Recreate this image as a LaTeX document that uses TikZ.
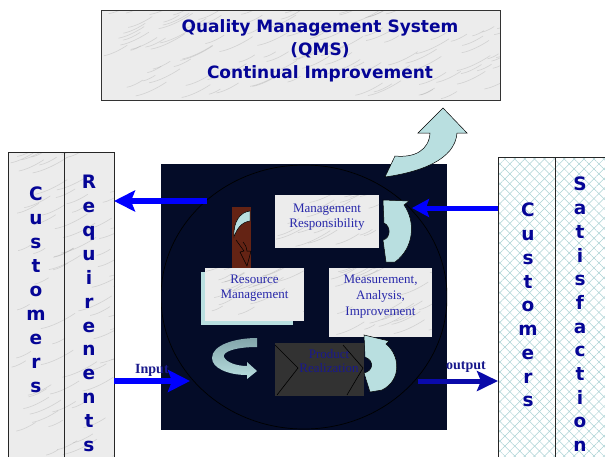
\documentclass[tikz,border=0pt]{standalone}
\usepackage{fontspec}
\setmainfont{Liberation Serif}
\newfontfamily\bigsans{DejaVu Sans}
\usetikzlibrary{arrows.meta,patterns.meta}
\definecolor{txtblue}{RGB}{40,40,170}
\definecolor{letblue}{RGB}{5,5,150}
\definecolor{arrowblue}{RGB}{0,0,255}
\definecolor{navyarrow}{RGB}{10,10,170}
\definecolor{darkbg}{RGB}{4,12,40}
\definecolor{tealfill}{RGB}{185,223,224}
\definecolor{tealdark}{RGB}{130,165,170}
\definecolor{marblebg}{RGB}{236,236,236}
\definecolor{veincol}{RGB}{170,170,170}
\definecolor{hatch}{RGB}{170,210,212}
\definecolor{brownfill}{RGB}{100,35,20}
\definecolor{prodfill}{RGB}{50,50,50}
\definecolor{prodtext}{RGB}{25,25,140}
\newcommand\marbleveins[5]{%
  \begin{scope}
    \clip (#1,#2) rectangle (#3,#4);
    \foreach \k in {1,...,#5}{
      \pgfmathsetmacro\mvx{#1+rnd*(#3-#1)}
      \pgfmathsetmacro\mvy{#2+rnd*(#4-#2)}
      \pgfmathsetmacro\mvl{10+rnd*25}
      \draw[veinline] (\mvx,\mvy) .. controls +(0.3*\mvl,-0.05*\mvl) and +(-0.3*\mvl,0.2*\mvl) .. +(\mvl,-0.45*\mvl);
    }
  \end{scope}}
\tikzset{
  veinline/.style={veincol, line width=0.6pt, opacity=0.4},
  sideborder/.style={draw=black!85, line width=0.7pt},
  tealshape/.style={fill=tealfill, draw=black, line width=0.5pt},
  boxtext/.style={font=\fontsize{13}{15.5}\selectfont, text=txtblue, align=center, inner sep=0pt, anchor=north},
  vletters/.style={font=\bigsans\bfseries\fontsize{18.5}{24}\selectfont, text=letblue, align=center, inner sep=0pt, anchor=north},
  bluearrow/.style={draw=arrowblue, line width=6pt},
  lbl/.style={font=\bfseries\fontsize{14}{16}\selectfont, text=prodtext, inner sep=0pt, anchor=base west}
}
\begin{document}
\begin{tikzpicture}[x=1pt,y=-1pt]
\pgfmathsetseed{42}
\useasboundingbox (0,0) rectangle (605,456);
\fill[white] (0,0) rectangle (605,456);

% left column boxes
\fill[marblebg] (8,152) rectangle (114,460);
\marbleveins{8}{152}{114}{460}{70}
\draw[sideborder] (8,152) rectangle (64,460) (64,152) rectangle (114,460);
\node[vletters] (cust1) at (36,187) {C\\u\\s\\t\\o\\m\\e\\r\\s};
\node[vletters, font=\bigsans\bfseries\fontsize{18.5}{23.9}\selectfont] (req) at (89,175) {R\\e\\q\\u\\i\\r\\e\\n\\e\\n\\t\\s};

% right column boxes
\fill[white] (498,157) rectangle (606,460);
\fill[pattern={Lines[angle=45,distance=7pt,line width=0.5pt]}, pattern color=hatch] (498,157) rectangle (606,460);
\fill[pattern={Lines[angle=-45,distance=7pt,line width=0.5pt]}, pattern color=hatch] (498,157) rectangle (606,460);
\draw[sideborder] (498,157) rectangle (555,460) (555,157) rectangle (606,460);
\node[vletters, font=\bigsans\bfseries\fontsize{18.5}{23.75}\selectfont] (cust2) at (528,203) {C\\u\\s\\t\\o\\m\\e\\r\\s};
\node[vletters, font=\bigsans\bfseries\fontsize{18.5}{23.7}\selectfont] (sat) at (580,177) {S\\a\\t\\i\\s\\f\\a\\c\\t\\i\\o\\n};

% top QMS box
\fill[marblebg] (101,10) rectangle (500,100);
\marbleveins{101}{10}{500}{100}{110}
\draw[draw=black!80, line width=0.8pt] (101,10) rectangle (500,100);
\node[font=\bigsans\bfseries\fontsize{17}{23}\selectfont, text=letblue, align=center, inner sep=0pt, anchor=north] (qms) at (320,19) {Quality Management System\\(QMS)\\Continual Improvement};

% dark square and ellipse
\fill[darkbg] (161,164) rectangle (447,430);
\begin{scope}
  \clip (161,164) rectangle (447,430);
  \draw[black, line width=0.7pt] (304,297) ellipse[x radius=143pt, y radius=132pt];
\end{scope}

% brown strip with small arrow
\fill[brownfill] (232,207) rectangle (251,268);
\draw[tealshape] (250,211) .. controls (240,212) and (233,222) .. (234,237) .. controls (237,228) and (242,222) .. (250,221) -- cycle;
\draw[black, line width=0.5pt] (236,240) .. controls (240,245) .. (244,251) -- (240,252) -- (247,266) -- (251,251) -- (247,251) .. controls (246,246) .. (243,242);

% process boxes
\fill[marblebg] (275,195) rectangle (379,248);
\marbleveins{275}{195}{379}{248}{20}
\node[boxtext] (mr) at (327,203.3) {Management\\Responsibility};

\fill[tealfill] (201,272) rectangle (293,325);
\fill[marblebg] (205,268) rectangle (304,321);
\marbleveins{205}{268}{304}{321}{20}
\node[boxtext] (rm) at (254.5,274.5) {Resource\\Management};

\fill[marblebg] (329,268) rectangle (432,337);
\marbleveins{329}{268}{432}{337}{25}
\node[boxtext, font=\fontsize{13}{16}\selectfont] (mai) at (380.5,274.3) {Measurement,\\Analysis,\\Improvement};

% product realization
\fill[prodfill] (275,343) rectangle (364,396);
\draw[black, line width=0.6pt] (275,345) -- (298,368) -- (277,395);
\draw[black, line width=0.6pt] (343,345) -- (363,368) -- (347,395);
\node[boxtext, text=prodtext, font=\fontsize{13}{14.7}\selectfont] (pr) at (329,349) {Product\\Realization};

% teal curved arrows
\draw[tealshape] (385,177) .. controls (420,172) and (455,160) .. (457,133) -- (467,133) -- (443,108) -- (418,133) -- (430,133) .. controls (429,150) and (415,158) .. (395,156) -- cycle;
\draw[tealshape] (383,200) -- (409,201) -- (404,205) .. controls (416,222) and (414,248) .. (395,262) -- (386,262) -- (383,240) .. controls (391,238) and (391,226) .. (384,223) -- cycle;
\draw[tealshape] (364,335) -- (389,341) -- (386,344) .. controls (400,355) and (402,380) .. (382,390) -- (370,392) -- (364,373) .. controls (373,371) and (375,361) .. (365,357) -- cycle;
\shade[top color=tealdark, bottom color=tealfill] (257,338) -- (257,347) .. controls (235,347) and (222,352) .. (224,357) .. controls (226,362) and (236,366) .. (247,366) -- (247,362) -- (257,371) -- (247,379) -- (247,375) .. controls (228,375) and (212,368) .. (212,358) .. controls (212,345) and (235,338) .. (257,338) -- cycle;

% blue arrows
\coordinate (reqS) at (207,201);
\coordinate (reqE) at (114,201);
\coordinate (satS) at (498,208);
\coordinate (satE) at (412,208);
\coordinate (inS) at (114,381);
\coordinate (inE) at (190,381);
\coordinate (outS) at (418,381);
\coordinate (outE) at (498,381);
\draw[bluearrow, -{Stealth[length=21pt,width=21pt,inset=4pt]}] (reqS) -- (reqE);
\draw[bluearrow, line width=5pt, -{Stealth[length=17pt,width=18pt,inset=3pt]}] (satS) -- (satE);
\draw[bluearrow, -{Stealth[length=22pt,width=22pt,inset=4pt]}] (inS) -- (inE);
\draw[bluearrow, draw=navyarrow, line width=5pt, -{Stealth[length=21pt,width=20pt,inset=4pt]}] (outS) -- (outE);
\node[lbl] (inlbl) at (135,373) {Input};
\node[lbl] (outlbl) at (446,369) {output};
\end{tikzpicture}
\end{document}
